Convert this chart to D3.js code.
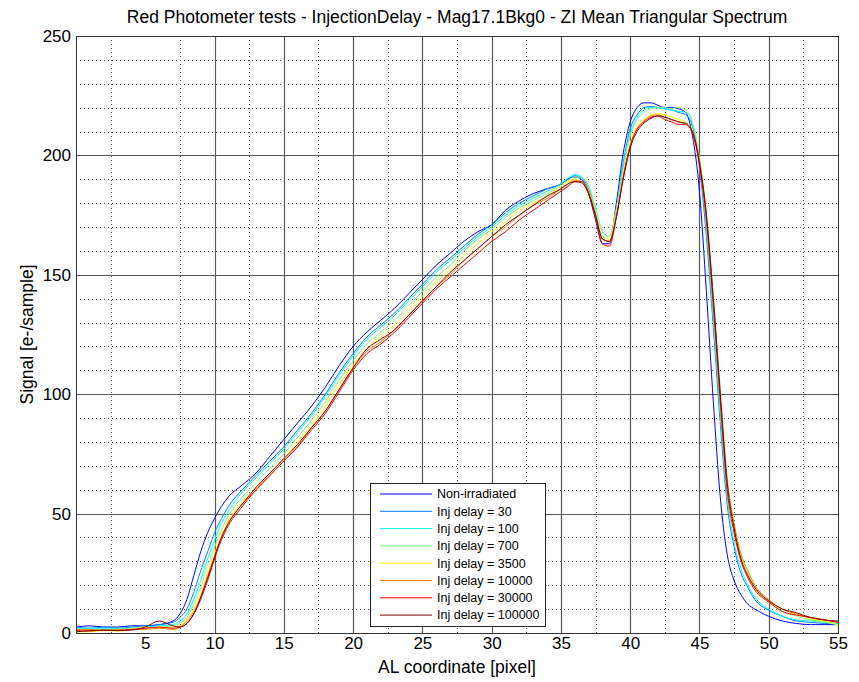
<!DOCTYPE html>
<html>
<head>
<meta charset="utf-8">
<script src="https://cdnjs.cloudflare.com/ajax/libs/d3/7.8.5/d3.min.js"></script>
<style>
body{margin:0;background:#fff;}
svg{font-family:"Liberation Sans",Arial,sans-serif;}
</style>
</head>
<body>
<svg id="chart" width="859" height="682"></svg>
<script>
// AL coordinate samples (pixel)
var alCoord = [0,1,2,3,4,5,6,7,7.5,8,8.5,9,9.5,10,10.5,11,12,13,14,15,16,17,18,19,20,21,22,23,24,25,26,27,28,29,30,31,32,33,34,35,
	35.5,36,36.5,37,37.5,38,38.5,39,39.5,40,40.5,41,41.5,42,42.5,43,43.5,44,44.5,45,45.5,46,46.5,47,47.5,48,48.5,49,50,51,52,53,54,55];

var seriesNames = ["Non-irradiated","Inj delay = 30","Inj delay = 100","Inj delay = 700","Inj delay = 3500","Inj delay = 10000","Inj delay = 30000","Inj delay = 100000"];
var seriesColors = ["#0000ff","#0080ff","#00ffff","#80ff80","#ffff00","#ff8000","#ff0000","#800000"];

var nonIrradiated = [2.5,3,2.5,2.5,3,3,3.5,5,8,14,24,34,42,48,53,57,62,67,74,81,88,95,103,112,120,126,131,136,142,148,154,159,164,168,171,177,181,184,186,188,
	190,191,190,184,173,163,163,180,201,214,220,222,222,221,220,220,219.5,218,208,185,143,97,57,33,22,16,12,10,7,5,4,3.5,3.5,3.5];
var inj30 = [2.5,2,2.5,2,2.5,3,3.5,4.5,6.5,10,17,26,34,42,48,53,60,66,72,78,85,92,100,109,117,124,129,134,140,146,152,157,162,167,171,176,180,183,186,188,
	190,191.5,190.5,186,176,165,164,178,197,211,217,220,220.5,220,219.5,219,218,217,212,195,166,128,88,54,36,25,19,14,9.5,7,5,4.5,4,4];
var inj100 = [2,2,2,2,2,2.5,3,3.5,5,8,14,22,31,39,46,51,59,65,71,77,84,91,99,108,116,123,128,133,139,145,151,156,161,166,170,175,179,182,185,188,
	190.5,192,191,187,178,168,166,178,196,209,216,219,220,220,219.5,219,218.5,218,213,197,170,132,92,57,38,27,20,15,10,7,5.5,5,4.5,4];
var inj700 = [1.5,1.5,1.5,1.5,2,2,2.5,3,4,6.5,12,19,28,36,43,49,57,63,69,75,82,89,97,106,114,121,126,131,137,143,149,154,160,165,169,174,178,181,184,187,
	189.5,191,190.5,187,178,168,166,177,194,208,215,218,219.5,220,220,219.5,220,219,214,199,174,138,98,62,44,32,25,19,13,9,7,5.5,4.5,3.5];
var inj3500 = [0.5,0.5,1,0.8,1.5,2.5,2,2.5,3,5.5,10,16,25,33,41,47,55,61,67,73,80,87,95,104,112,119,124,129,135,141,147,152,158,163,168,172,177,180,183,187,
	189,190,189,185,176,166,165,176,192,205,212,215,217,217.5,217,216,215,214,210,197,174,139,99,63,45,33,26,20,13,10,8,6,5,3.5];
var inj10000 = [1.5,1.5,1,1.5,1.5,1.5,2,1.5,2.5,5,9,15,24,32,40,46,54,60,66,72,78,86,93,102,111,118,122,127,133,139,145,150,156,161,166,170,175,179,182,186,
	188,189.5,189,185,175,165,164,175,191,204,211,214.5,216.5,217,216,215,214,213,210,198,176,141,102,65,46,33,26,20,14,10,8,6.5,5.5,4.5];
var inj30000 = [1,0.8,1.2,1,1.5,2,2.5,2,2.5,4,8,14,22,31,39,45,53,60,66,72,78,85,92,101,110,117,121,126,132,138,144,149,154,159,164,168,173,177,181,185,
	187,189,189,184,174,163,162,174,191,204,211,214,216,216.5,215,214,213,213,209,196,173,137,97,60,42,30,23,18,13,9,7.5,6.5,5.5,4.5];
var inj100000 = [0.5,1,1.2,1,1.2,2.5,5,3,2.5,4,8,15,23,32,40,46,54,61,67,73,79,86,93,102,111,119,123,127,133,139,145,151,156,161,166,171,175,179,183,186,
	188,189,188.5,184,175,165,164,174,190,203,210,213.5,215.5,216.5,216,215,214,213.5,210,197,175,140,100,63,44,31,24,19,13.5,10,8.5,6.5,5.5,5];

var seriesValues = [nonIrradiated, inj30, inj100, inj700, inj3500, inj10000, inj30000, inj100000];

var xTicks = [5,10,15,20,25,30,35,40,45,50,55];
var yTicks = [0,50,100,150,200,250];

var svg = d3.select("#chart");
var plotLeft = 76, plotRight = 838, plotTop = 36, plotBottom = 633;

var xScale = d3.scaleLinear().domain([0,55]).range([plotLeft, plotRight]);
var yScale = d3.scaleLinear().domain([0,250]).range([plotBottom, plotTop]);

// minor dotted grid
var minorX = d3.range(2.5, 55, 5);
var minorY = d3.range(10, 250, 10).filter(function(d){ return d % 50 != 0; });

svg.append("g").selectAll("line")
	.data(minorX).enter().append("line")
	.attr("x1", function(d){ return Math.round(xScale(d)) + 0.5; })
	.attr("x2", function(d){ return Math.round(xScale(d)) + 0.5; })
	.attr("y1", plotTop).attr("y2", plotBottom)
	.attr("stroke", "#555").attr("stroke-dasharray", "1,3");

svg.append("g").selectAll("line")
	.data(minorY).enter().append("line")
	.attr("y1", function(d){ return Math.round(yScale(d)) + 0.5; })
	.attr("y2", function(d){ return Math.round(yScale(d)) + 0.5; })
	.attr("x1", plotLeft).attr("x2", plotRight)
	.attr("stroke", "#555").attr("stroke-dasharray", "1,3");

// major solid grid (the line at 5 does not show in the original)
svg.append("g").selectAll("line")
	.data(xTicks.filter(function(d){ return d > 5 && d < 55; })).enter().append("line")
	.attr("x1", function(d){ return Math.round(xScale(d)) + 0.5; })
	.attr("x2", function(d){ return Math.round(xScale(d)) + 0.5; })
	.attr("y1", plotTop).attr("y2", plotBottom)
	.attr("stroke", "#5a5a5a").attr("stroke-width", 1.2);

svg.append("g").selectAll("line")
	.data(yTicks.filter(function(d){ return d > 0 && d < 250; })).enter().append("line")
	.attr("y1", function(d){ return Math.round(yScale(d)) + 0.5; })
	.attr("y2", function(d){ return Math.round(yScale(d)) + 0.5; })
	.attr("x1", plotLeft).attr("x2", plotRight)
	.attr("stroke", "#5a5a5a").attr("stroke-width", 1.2);

// curves
var line = d3.line()
	.curve(d3.curveMonotoneX)
	.x(function(d, i){ return xScale(alCoord[i]); })
	.y(function(d){ return yScale(d); });

svg.append("g").selectAll("path")
	.data(seriesValues).enter().append("path")
	.attr("d", function(d){ return line(d); })
	.attr("fill", "none")
	.attr("stroke", function(d, i){ return seriesColors[i]; })
	.attr("stroke-width", 1);

// frame
svg.append("rect")
	.attr("x", plotLeft + 0.5).attr("y", plotTop + 0.5)
	.attr("width", plotRight - plotLeft).attr("height", plotBottom - plotTop)
	.attr("fill", "none").attr("stroke", "#333");

// axes labels
var xAxis = svg.append("g")
	.attr("transform", "translate(0," + plotBottom + ")")
	.call(d3.axisBottom(xScale).tickValues(xTicks).tickSize(0).tickPadding(4));
xAxis.select(".domain").remove();
xAxis.selectAll("text").attr("font-size", 17).attr("font-family", "Liberation Sans, Arial, sans-serif").attr("fill", "#000");

var yAxis = svg.append("g")
	.attr("transform", "translate(" + plotLeft + ",0)")
	.call(d3.axisLeft(yScale).tickValues(yTicks).tickSize(0).tickPadding(5));
yAxis.select(".domain").remove();
yAxis.selectAll("text").attr("font-size", 17).attr("font-family", "Liberation Sans, Arial, sans-serif").attr("fill", "#000");

svg.append("text")
	.attr("x", 457).attr("y", 23)
	.attr("text-anchor", "middle").attr("font-size", 17.5)
	.text("Red Photometer tests - InjectionDelay - Mag17.1Bkg0 - ZI Mean Triangular Spectrum");

svg.append("text")
	.attr("x", 457).attr("y", 673)
	.attr("text-anchor", "middle").attr("font-size", 17.5)
	.text("AL coordinate [pixel]");

svg.append("text")
	.attr("transform", "translate(33," + ((plotTop + plotBottom) / 2) + ") rotate(-90)")
	.attr("text-anchor", "middle").attr("font-size", 17.5)
	.text("Signal [e-/sample]");

// legend
var legend = svg.append("g").attr("transform", "translate(370,483)");
legend.append("rect")
	.attr("x", 0.5).attr("y", 0.5).attr("width", 175).attr("height", 143)
	.attr("fill", "#fff").attr("stroke", "#222");

var rows = legend.selectAll("g.row")
	.data(seriesNames).enter().append("g")
	.attr("class", "row")
	.attr("transform", function(d, i){ return "translate(0," + (11 + i * 17.3) + ")"; });
rows.append("line")
	.attr("x1", 10).attr("x2", 62)
	.attr("stroke", function(d, i){ return seriesColors[i]; });
rows.append("text")
	.attr("x", 67).attr("dy", "0.35em")
	.attr("font-size", 12.5)
	.text(function(d){ return d; });
</script>
</body>
</html>
